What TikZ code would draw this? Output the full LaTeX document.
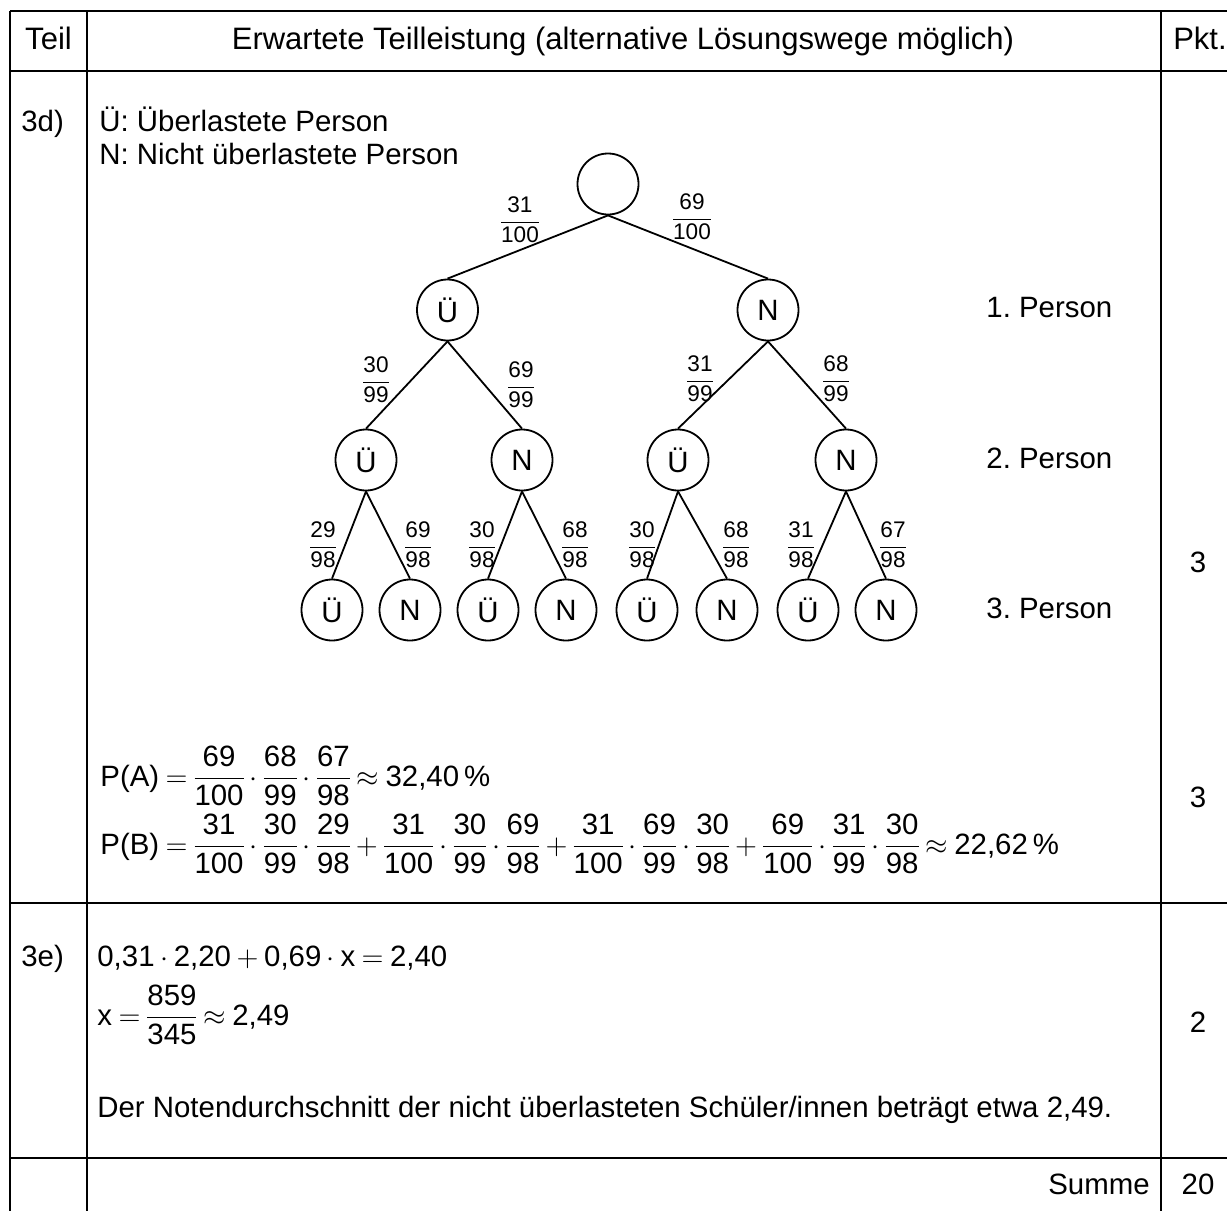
\documentclass[tikz,border=0pt]{standalone}
\usepackage{amsmath}
\usepackage{fontspec}
\setmainfont{Liberation Sans}
\frenchspacing
\newcommand\tfr[2]{$\dfrac{\text{#1}}{\text{#2}}$}
\newcommand\mfr[2]{\dfrac{\text{#1}}{\text{#2}}}
\newcommand\tightmath{\nulldelimiterspace=0.3pt\medmuskip=3.5mu plus 1mu minus 1mu\thickmuskip=4mu plus 1mu minus 1mu}
\begin{document}
\begin{tikzpicture}[x=0.5pt,y=-0.5pt,
  font=\fontsize{14.7}{17.5}\selectfont,
  tbl/.style={line width=1.1pt},
  nd/.style={circle,draw,line width=0.9pt,minimum size=30.5pt,inner sep=0pt},
  edg/.style={line width=0.9pt},
  lbl/.style={inner sep=0pt,font=\fontsize{11.3}{13.5}\selectfont\tightmath},
  txt/.style={anchor=base west,inner sep=0pt},
  frm/.style={anchor=base west,inner sep=0pt,font=\fontsize{14.7}{17.5}\selectfont\tightmath},
  hdr/.style={anchor=base,inner sep=0pt,font=\fontsize{15.5}{18.5}\selectfont},
  ctr/.style={anchor=base,inner sep=0pt}]
\useasboundingbox (0,0) rectangle (1227,1211);
% table
\draw[tbl] (10,11) -- (1227,11);
\draw[tbl] (10,71) -- (1227,71);
\draw[tbl] (10,903) -- (1227,903);
\draw[tbl] (10,1158) -- (1227,1158);
\draw[tbl] (10,11) -- (10,1211);
\draw[tbl] (87,11) -- (87,1211);
\draw[tbl] (1161,11) -- (1161,1211);
% header
\node[hdr] (h1) at (48.5,49) {Teil};
\node[hdr] (h2) at (623,49) {Erwartete Teilleistung (alternative Lösungswege möglich)};
\node[hdr] (h3) at (1200,49) {Pkt.};
% 3d
\node[txt] (t3d) at (21,131) {3d)};
\node[txt] (leg1) at (99,131) {Ü: Überlastete Person};
\node[txt] (leg2) at (99,164) {N: Nicht überlastete Person};
% tree
\node[nd] (r) at (608,184) {};
\node[nd] (a1) at (447.5,310) {Ü};
\node[nd] (a2) at (768,310) {N};
\node[nd] (b1) at (366,460) {Ü};
\node[nd] (b2) at (522,460) {N};
\node[nd] (b3) at (678,460) {Ü};
\node[nd] (b4) at (846,460) {N};
\node[nd] (c1) at (332,610) {Ü};
\node[nd] (c2) at (410,610) {N};
\node[nd] (c3) at (488,610) {Ü};
\node[nd] (c4) at (566,610) {N};
\node[nd] (c5) at (647,610) {Ü};
\node[nd] (c6) at (727,610) {N};
\node[nd] (c7) at (808,610) {Ü};
\node[nd] (c8) at (886,610) {N};
\foreach \p/\c in {r/a1,r/a2,a1/b1,a1/b2,a2/b3,a2/b4,b1/c1,b1/c2,b2/c3,b2/c4,b3/c5,b3/c6,b4/c7,b4/c8}
  \draw[edg] (\p.south) -- (\c.north);
\node[lbl] (f1) at (520,220) {\tfr{31}{100}};
\node[lbl] (f2) at (692,217) {\tfr{69}{100}};
\node[lbl] (f3) at (376,380) {\tfr{30}{99}};
\node[lbl] (f4) at (521,385) {\tfr{69}{99}};
\node[lbl] (f5) at (700,379) {\tfr{31}{99}};
\node[lbl] (f6) at (836,379) {\tfr{68}{99}};
\node[lbl] (g1) at (323,545) {\tfr{29}{98}};
\node[lbl] (g2) at (418,545) {\tfr{69}{98}};
\node[lbl] (g3) at (482,545) {\tfr{30}{98}};
\node[lbl] (g4) at (575,545) {\tfr{68}{98}};
\node[lbl] (g5) at (642,545) {\tfr{30}{98}};
\node[lbl] (g6) at (736,545) {\tfr{68}{98}};
\node[lbl] (g7) at (801,545) {\tfr{31}{98}};
\node[lbl] (g8) at (893,545) {\tfr{67}{98}};
\node[txt] (p1) at (986,317) {1. Person};
\node[txt] (p2) at (986,468) {2. Person};
\node[txt] (p3) at (986,618) {3. Person};
% formulas
\node[frm] (pa) at (100,786) {$\text{P(A)}=\mfr{69}{100}\cdot\mfr{68}{99}\cdot\mfr{67}{98}\approx\text{32,40\,\%}$};
\node[frm] (pb) at (100,854) {$\text{P(B)}=\mfr{31}{100}\cdot\mfr{30}{99}\cdot\mfr{29}{98}+\mfr{31}{100}\cdot\mfr{30}{99}\cdot\mfr{69}{98}+\mfr{31}{100}\cdot\mfr{69}{99}\cdot\mfr{30}{98}+\mfr{69}{100}\cdot\mfr{31}{99}\cdot\mfr{30}{98}\approx\text{22,62\,\%}$};
\node[ctr] (pt1) at (1198,572) {3};
\node[ctr] (pt2) at (1198,807) {3};
% 3e
\node[txt] (t3e) at (21,966) {3e)};
\node[frm] (e1) at (97,966) {$\text{0,31}\cdot\text{2,20}+\text{0,69}\cdot\text{x}=\text{2,40}$};
\node[frm] (e2) at (97,1025) {$\text{x}=\mfr{859}{345}\approx\text{2,49}$};
\node[txt] (e3) at (97,1117) {Der Notendurchschnitt der nicht überlasteten Schüler/innen beträgt etwa 2,49.};
\node[ctr] (pt3) at (1198,1032) {2};
% sum
\node[anchor=base east,inner sep=0pt] (sum) at (1150,1194) {Summe};
\node[ctr] (pt4) at (1198,1194) {20};
\end{tikzpicture}
\end{document}
